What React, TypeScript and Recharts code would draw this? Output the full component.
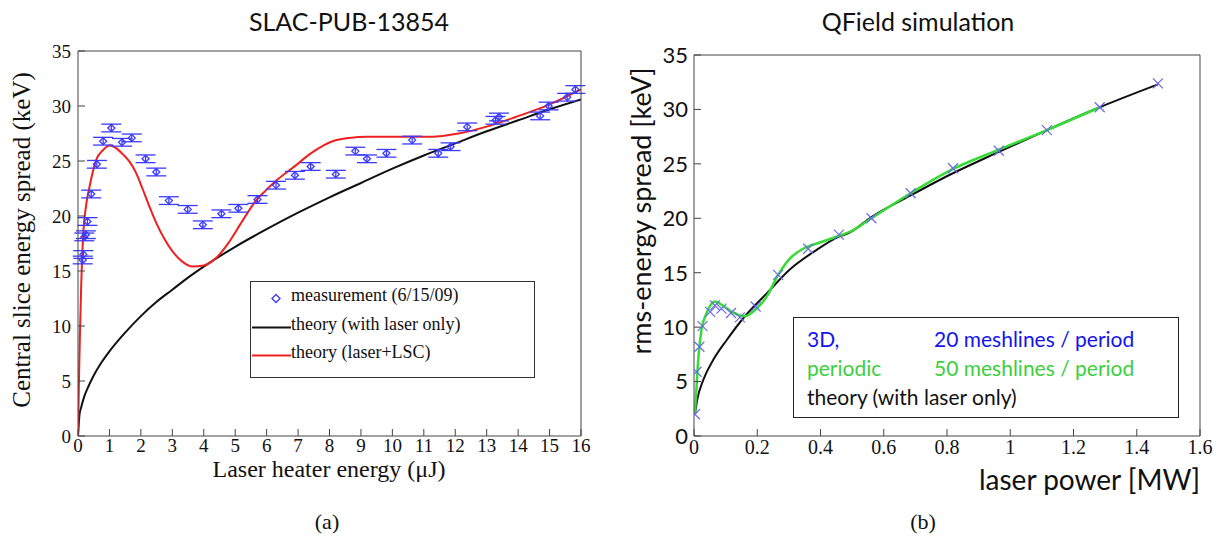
import React from "react";
import { ComposedChart, Line, Scatter, XAxis, YAxis, ErrorBar } from "recharts";

// ---- panel (a): SLAC-PUB-13854 ----
const measX = [0.15, 0.17, 0.2, 0.25, 0.3, 0.42, 0.6, 0.8, 1.06, 1.4, 1.71, 2.15, 2.49, 2.89, 3.49, 3.97, 4.56, 5.1, 5.71, 6.3, 6.9, 7.4, 8.2, 8.82, 9.19, 9.81, 10.63, 11.46, 11.85, 12.38, 13.28, 13.39, 14.7, 14.97, 15.56, 15.82];
const measY = [16.0, 16.5, 18.1, 18.3, 19.5, 22.0, 24.7, 26.8, 28.0, 26.7, 27.1, 25.2, 24.0, 21.4, 20.6, 19.2, 20.2, 20.7, 21.5, 22.8, 23.7, 24.5, 23.8, 25.9, 25.2, 25.7, 26.9, 25.7, 26.3, 28.1, 28.7, 29.0, 29.1, 30.0, 30.8, 31.5];
const measErr = 0.35;

const laserX = [0, 0.05, 0.1, 0.2, 0.3, 0.5, 0.75, 1, 1.5, 2, 2.5, 3, 3.5, 4, 5, 6, 7, 8, 9, 10, 11, 12, 13, 14, 15, 16];
const laserY = [0, 2.0, 2.6, 3.6, 4.3, 5.5, 6.7, 7.7, 9.4, 10.9, 12.2, 13.3, 14.4, 15.4, 17.2, 18.8, 20.3, 21.7, 23.0, 24.3, 25.5, 26.6, 27.7, 28.7, 29.7, 30.6];

const lscX = [0, 0.03, 0.06, 0.1, 0.16, 0.25, 0.37, 0.58, 0.8, 1.0, 1.2, 1.43, 1.65, 1.85, 2.05, 2.28, 2.5, 2.75, 3.0, 3.3, 3.65, 4.0, 4.4, 4.8, 5.24, 5.66, 6.0, 6.3, 6.93, 7.36, 7.8, 8.1, 8.63, 9.2, 10, 10.6, 11.27, 12.1, 12.97, 13.92, 14.97, 16];
const lscY = [0, 5, 9, 13.5, 18, 20.8, 22.7, 25.1, 26.0, 26.4, 26.2, 25.6, 24.9, 23.9, 22.5, 20.8, 19.3, 17.9, 16.8, 15.9, 15.4, 15.5, 16.2, 17.6, 19.6, 21.4, 22.4, 23.2, 24.6, 25.6, 26.4, 26.8, 27.1, 27.2, 27.2, 27.2, 27.2, 27.5, 28.1, 29.0, 30.1, 31.5];

const ticksA_X = [0, 1, 2, 3, 4, 5, 6, 7, 8, 9, 10, 11, 12, 13, 14, 15, 16];
const ticksA_Y = [0, 5, 10, 15, 20, 25, 30, 35];

// ---- panel (b): QField simulation ----
const sim20X = [0.003, 0.008, 0.017, 0.027, 0.051, 0.066, 0.087, 0.117, 0.145, 0.195, 0.266, 0.361, 0.458, 0.561, 0.685, 0.819, 0.964, 1.116, 1.283, 1.467];
const sim20Y = [2.0, 5.9, 8.2, 10.1, 11.4, 12.0, 11.7, 11.3, 10.9, 11.9, 14.8, 17.2, 18.5, 20.0, 22.3, 24.6, 26.2, 28.1, 30.2, 32.4];

const sim50X = [0.003, 0.008, 0.014, 0.024, 0.04, 0.066, 0.09, 0.12, 0.161, 0.198, 0.23, 0.266, 0.303, 0.345, 0.4, 0.45, 0.503, 0.561, 0.685, 0.81, 0.964, 1.116, 1.283];
const sim50Y = [2.1, 4.5, 7.3, 9.8, 11.3, 12.35, 12.0, 11.4, 11.0, 11.7, 12.8, 14.8, 16.3, 17.2, 17.8, 18.3, 18.9, 20.0, 22.3, 24.4, 26.3, 28.1, 30.2];

const theoryBX = [0.003, 0.01, 0.03, 0.061, 0.103, 0.161, 0.23, 0.303, 0.388, 0.45, 0.493, 0.561, 0.685, 0.809, 0.964, 1.116, 1.283, 1.467];
const theoryBY = [2.0, 3.3, 5.2, 7.0, 8.8, 11.0, 13.1, 15.3, 17.1, 18.2, 18.7, 20.1, 22.1, 24.0, 26.1, 28.1, 30.2, 32.3];

const ticksB_X = [0, 0.2, 0.4, 0.6, 0.8, 1, 1.2, 1.4, 1.6];
const ticksB_Y = [0, 5, 10, 15, 20, 25, 30, 35];

const SERIF = '"Liberation Serif", "DejaVu Serif", serif';
const SANS = 'Lato, "Open Sans", sans-serif';
const AXIS = "#444";
const BLUE = "#3a3aff";
const GREEN = "#33dd33";

const zip = (xs: number[], ys: number[]) => xs.map((x, i) => ({ x, y: ys[i] }));

const measData = measX.map((x, i) => ({ x, y: measY[i], err: measErr }));
const laserData = zip(laserX, laserY);
const lscData = zip(lscX, lscY);
const sim20Data = zip(sim20X, sim20Y);
const sim50Data = zip(sim50X, sim50Y);
const theoryBData = zip(theoryBX, theoryBY);

function Diamond(props: any) {
  const { cx, cy } = props;
  if (cx == null || cy == null) return null;
  const r = 3.5;
  return (
    <polygon
      points={`${cx},${cy - r} ${cx + r},${cy} ${cx},${cy + r} ${cx - r},${cy}`}
      fill="none"
      stroke={BLUE}
      strokeWidth={1.3}
    />
  );
}

function Cross(props: any) {
  const { cx, cy } = props;
  if (cx == null || cy == null) return null;
  const r = 5;
  return (
    <g stroke="#6a6ae8" strokeWidth={1.2}>
      <line x1={cx - r} y1={cy - r} x2={cx + r} y2={cy + r} />
      <line x1={cx - r} y1={cy + r} x2={cx + r} y2={cy - r} />
    </g>
  );
}

const abs = (left: number, top: number, extra: React.CSSProperties = {}): React.CSSProperties => ({
  position: "absolute",
  left,
  top,
  whiteSpace: "nowrap",
  ...extra,
});

export default function App() {
  const serifTick = { fontSize: 19, fontFamily: SERIF, fill: "#111" };
  const sansTick = { fontSize: 22, fontFamily: SANS, fill: "#111" };
  const blank = () => "";

  return (
    <div style={{ position: "absolute", left: 0, top: 0, width: 1218, height: 540, background: "#fff" }}>
      {/* panel (a) */}
      <div style={abs(0, 0)}>
        <ComposedChart width={600} height={480} margin={{ top: 50, right: 18, bottom: 14, left: 38 }}>
          <XAxis
            dataKey="x"
            type="number"
            domain={[0, 16]}
            ticks={ticksA_X}
            stroke={AXIS}
            tickSize={-7}
            tickMargin={10}
            height={30}
            tick={serifTick}
            interval={0}
            allowDataOverflow
          />
          <XAxis xAxisId="top" orientation="top" type="number" domain={[0, 16]} ticks={ticksA_X} stroke={AXIS} tickSize={-7} height={1} tickFormatter={blank} interval={0} />
          <YAxis
            dataKey="y"
            type="number"
            domain={[0, 35]}
            ticks={ticksA_Y}
            stroke={AXIS}
            tickSize={-7}
            tickMargin={14}
            width={40}
            tick={serifTick}
            interval={0}
            allowDataOverflow
          />
          <YAxis yAxisId="right" orientation="right" type="number" domain={[0, 35]} ticks={ticksA_Y} stroke={AXIS} tickSize={-7} width={1} tickFormatter={blank} interval={0} />
          <Line data={laserData} dataKey="y" type="monotone" stroke="#111" strokeWidth={2} dot={false} isAnimationActive={false} />
          <Line data={lscData} dataKey="y" type="monotone" stroke="#ee2020" strokeWidth={2} dot={false} isAnimationActive={false} />
          <Scatter data={measData} dataKey="y" shape={<Diamond />} isAnimationActive={false}>
            <ErrorBar dataKey="err" direction="y" width={10} stroke={BLUE} strokeWidth={1.3} />
          </Scatter>
        </ComposedChart>
      </div>

      <div style={abs(349, 6, { transform: "translateX(-50%)", fontFamily: SANS, fontSize: 25, color: "#111" })}>SLAC-PUB-13854</div>
      <div style={abs(22, 240, { transform: "translate(-50%, -50%) rotate(-90deg)", fontFamily: SERIF, fontSize: 25, color: "#111" })}>
        Central slice energy spread (keV)
      </div>
      <div style={abs(329, 458, { transform: "translateX(-50%)", fontFamily: SERIF, fontSize: 24, lineHeight: "22px", color: "#111" })}>Laser heater energy (μJ)</div>
      <div style={abs(327, 509, { transform: "translateX(-50%)", fontFamily: SERIF, fontSize: 22, lineHeight: "26px", color: "#111" })}>(a)</div>

      {/* legend (a) */}
      <div style={abs(250, 281, { width: 285, height: 97, boxSizing: "border-box", border: "1.3px solid #333", background: "#fff", fontFamily: SERIF, fontSize: 18, color: "#111" })}>
        <svg width={44} height={90} style={{ position: "absolute", left: 0, top: 2 }}>
          <polygon points="25,10.5 29,14.5 25,18.5 21,14.5" fill="none" stroke={BLUE} strokeWidth={1.3} />
          <line x1={1} x2={40} y1={43.5} y2={43.5} stroke="#111" strokeWidth={2} />
          <line x1={1} x2={40} y1={71.5} y2={71.5} stroke="#ee2020" strokeWidth={2} />
        </svg>
        <div style={abs(40, 3)}>measurement (6/15/09)</div>
        <div style={abs(40, 32)}>theory (with laser only)</div>
        <div style={abs(40, 60)}>theory (laser+LSC)</div>
      </div>

      {/* panel (b) */}
      <div style={abs(600, 0)}>
        <ComposedChart width={618} height={480} margin={{ top: 54, right: 17, bottom: 14, left: 54 }}>
          <XAxis
            dataKey="x"
            type="number"
            domain={[0, 1.6]}
            ticks={ticksB_X}
            stroke={AXIS}
            tickSize={-7}
            tickMargin={11}
            height={30}
            tick={{ ...serifTick, fontSize: 20 }}
            interval={0}
            allowDataOverflow
          />
          <XAxis xAxisId="top" orientation="top" type="number" domain={[0, 1.6]} ticks={ticksB_X} stroke={AXIS} tickSize={-7} height={1} tickFormatter={blank} interval={0} />
          <YAxis
            dataKey="y"
            type="number"
            domain={[0, 35]}
            ticks={ticksB_Y}
            stroke={AXIS}
            tickSize={-7}
            tickMargin={13}
            width={40}
            tick={sansTick}
            interval={0}
            allowDataOverflow
          />
          <YAxis yAxisId="right" orientation="right" type="number" domain={[0, 35]} ticks={ticksB_Y} stroke={AXIS} tickSize={-7} width={1} tickFormatter={blank} interval={0} />
          <Line data={theoryBData} dataKey="y" type="monotone" stroke="#111" strokeWidth={2} dot={false} isAnimationActive={false} />
          <Line data={sim50Data} dataKey="y" type="monotone" stroke={GREEN} strokeWidth={2.5} dot={false} isAnimationActive={false} />
          <Scatter data={sim20Data} dataKey="y" shape={<Cross />} isAnimationActive={false} />
        </ComposedChart>
      </div>

      <div style={abs(918, 6, { transform: "translateX(-50%)", fontFamily: SANS, fontSize: 25, color: "#111" })}>QField simulation</div>
      <div style={abs(640, 211, { transform: "translate(-50%, -50%) rotate(-90deg)", fontFamily: SANS, fontSize: 27, color: "#111" })}>
        rms-energy spread [keV]
      </div>
      <div style={abs(1200, 462, { transform: "translateX(-100%)", fontFamily: SANS, fontSize: 28, color: "#111" })}>laser power [MW]</div>
      <div style={abs(923, 509, { transform: "translateX(-50%)", fontFamily: SERIF, fontSize: 22, lineHeight: "26px", color: "#111" })}>(b)</div>

      {/* legend (b) */}
      <div style={abs(793, 317, { width: 386, height: 101, boxSizing: "border-box", border: "1.3px solid #222", background: "#fff", fontFamily: SANS, fontSize: 21 })}>
        <div style={abs(13, 8, { color: "#1414f0" })}>3D,</div>
        <div style={abs(140, 8, { color: "#1414f0" })}>20 meshlines / period</div>
        <div style={abs(13, 37, { color: "#3ccf3c" })}>periodic</div>
        <div style={abs(140, 37, { color: "#3ccf3c" })}>50 meshlines / period</div>
        <div style={abs(13, 66, { color: "#111" })}>theory (with laser only)</div>
      </div>
    </div>
  );
}
